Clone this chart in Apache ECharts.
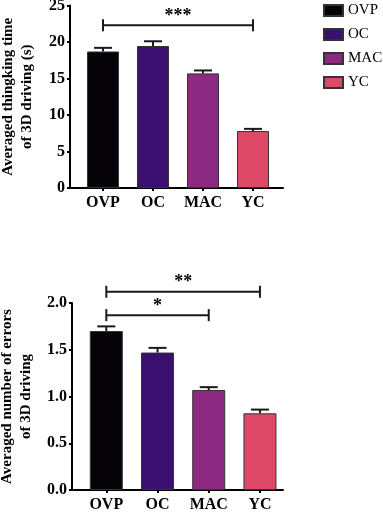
<!DOCTYPE html>
<html>
<head>
<meta charset="utf-8">
<script src="https://cdn.jsdelivr.net/npm/echarts@6/dist/echarts.min.js"></script>
<style>
  html, body { margin: 0; background: #fff; }
  #chart { width: 383px; height: 512px; }
</style>
</head>
<body>
<div id="chart"></div>
<script>
const groups = ["OVP", "OC", "MAC", "YC"];
const colors = ["#050308", "#3b0f70", "#8c2981", "#de4968"];

// thinking time (s): mean and SEM
const timeMean = [18.7, 19.45, 15.7, 7.8];
const timeSem = [0.5, 0.65, 0.4, 0.3];
// number of errors: mean and SEM
const errMean = [1.7, 1.47, 1.07, 0.82];
const errSem = [0.05, 0.05, 0.03, 0.04];

// significance brackets: [from, to, height, stars]
const timeSig = [[0, 3, 22.3, "***"]];
const errSig = [[0, 3, 2.12, "**"], [0, 2, 1.87, "*"]];

const FONT = "Liberation Serif";
const chart = echarts.init(document.getElementById("chart"));

function xAxis(gridIndex, min, max) {
  return {
    type: "value",
    gridIndex,
    min,
    max,
    splitLine: { show: false },
    axisLine: { show: true, onZero: false, lineStyle: { color: "#000", width: 2 } },
    axisTick: { show: true, customValues: [0, 1, 2, 3], length: 3, lineStyle: { color: "#000", width: 2 } },
    axisLabel: {
      customValues: [0, 1, 2, 3],
      formatter: (v) => groups[Math.round(v)],
      fontFamily: FONT, fontWeight: "bold", fontSize: 16, color: "#000", margin: 7,
    },
  };
}

function yAxis(gridIndex, max, interval, name, digits) {
  return {
    type: "value",
    gridIndex,
    min: 0,
    max,
    interval,
    splitLine: { show: false },
    axisLine: { show: true, onZero: false, lineStyle: { color: "#000", width: 2 } },
    axisTick: { show: true, length: 3, lineStyle: { color: "#000", width: 2 } },
    axisLabel: {
      formatter: (v) => v.toFixed(digits),
      fontFamily: FONT, fontWeight: "bold", fontSize: 16, color: "#000", margin: 5,
    },
    name,
    nameLocation: "middle",
    nameGap: 33,
    nameTextStyle: { fontFamily: FONT, fontWeight: "bold", fontSize: 15, color: "#000", lineHeight: 19 },
  };
}

function errorBars(idx, means, sems) {
  return {
    type: "custom",
    xAxisIndex: idx,
    yAxisIndex: idx,
    silent: true,
    z: 1,
    data: means.map((m, i) => [i, m, m + sems[i]]),
    renderItem: (params, api) => {
      const b = api.coord([api.value(0), api.value(1)]);
      const t = api.coord([api.value(0), api.value(2)]);
      const st = { stroke: "#1a1a1a", lineWidth: 2 };
      return {
        type: "group",
        children: [
          { type: "line", shape: { x1: b[0], y1: b[1], x2: t[0], y2: t[1] }, style: st },
          { type: "line", shape: { x1: t[0] - 9, y1: t[1], x2: t[0] + 9, y2: t[1] }, style: st },
        ],
      };
    },
  };
}

function brackets(idx, sig) {
  return {
    type: "custom",
    xAxisIndex: idx,
    yAxisIndex: idx,
    silent: true,
    clip: false,
    data: sig.map((s) => [s[0], s[1], s[2]]),
    renderItem: (params, api) => {
      const a = api.coord([api.value(0), api.value(2)]);
      const b = api.coord([api.value(1), api.value(2)]);
      const st = { stroke: "#1a1a1a", lineWidth: 2 };
      return {
        type: "group",
        children: [
          { type: "line", shape: { x1: a[0], y1: a[1], x2: b[0], y2: b[1] }, style: st },
          { type: "line", shape: { x1: a[0], y1: a[1] - 6, x2: a[0], y2: a[1] + 6 }, style: st },
          { type: "line", shape: { x1: b[0], y1: b[1] - 6, x2: b[0], y2: b[1] + 6 }, style: st },
          {
            type: "text",
            style: {
              text: sig[params.dataIndex][3],
              x: (a[0] + b[0]) / 2,
              y: a[1] - 9,
              align: "center",
              verticalAlign: "middle",
              font: 'bold 18px "Liberation Serif"',
              fill: "#000",
            },
          },
        ],
      };
    },
  };
}

const series = [];
groups.forEach((g, i) => {
  const style = { color: colors[i], borderColor: "#333", borderWidth: 1 };
  series.push({
    type: "bar", name: g, xAxisIndex: 0, yAxisIndex: 0,
    barWidth: 32, barGap: "-100%", itemStyle: style,
    data: [[i, timeMean[i]]],
  });
  series.push({
    type: "bar", name: g, xAxisIndex: 1, yAxisIndex: 1,
    barWidth: 33, barGap: "-100%", itemStyle: style,
    data: [[i, errMean[i]]],
  });
});
series.push(errorBars(0, timeMean, timeSem));
series.push(errorBars(1, errMean, errSem));
series.push(brackets(0, timeSig));
series.push(brackets(1, errSig));

chart.setOption({
  animation: false,
  legend: {
    data: groups,
    orient: "vertical",
    left: 318,
    top: -2,
    icon: "rect",
    itemWidth: 19,
    itemHeight: 11,
    itemGap: 9,
    textStyle: { fontFamily: FONT, fontSize: 15, color: "#000" },
  },
  grid: [
    { left: 70, right: 100, top: 5.5, height: 182.5, outerBoundsMode: "none" },
    { left: 72, right: 100, top: 303, height: 187, outerBoundsMode: "none" },
  ],
  xAxis: [xAxis(0, -0.66, 3.6), xAxis(1, -0.67, 3.45)],
  yAxis: [
    yAxis(0, 25, 5, "Averaged thingking time\nof 3D driving (s)", 0),
    yAxis(1, 2, 0.5, "Averaged number of errors\nof 3D driving", 1),
  ],
  series,
});
</script>
</body>
</html>
